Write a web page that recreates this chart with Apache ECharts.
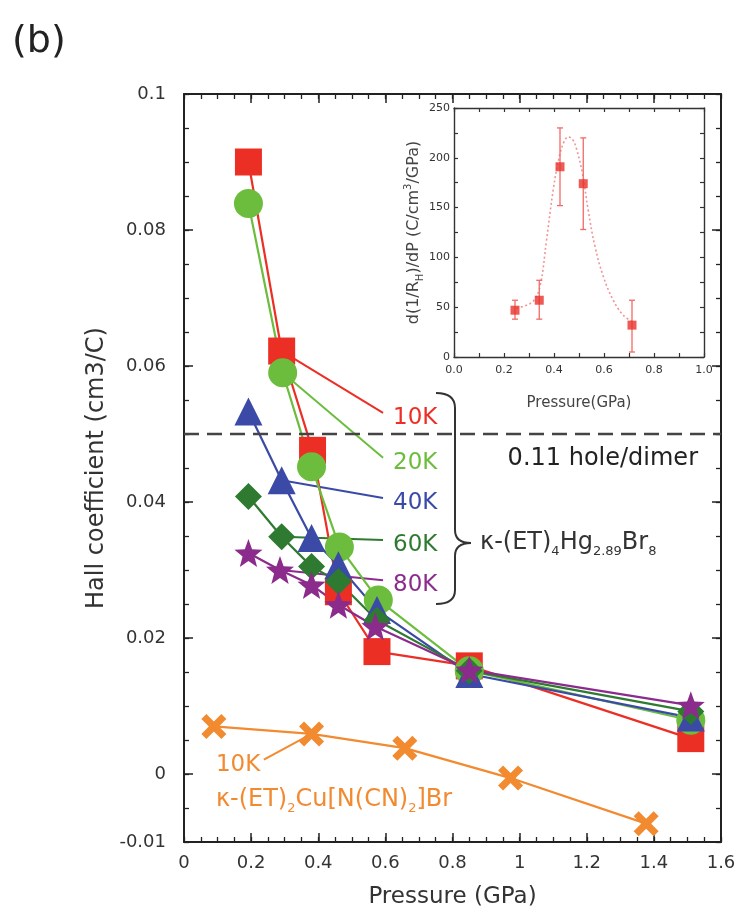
<!DOCTYPE html>
<html>
<head>
<meta charset="utf-8">
<script src="https://cdn.jsdelivr.net/npm/echarts@6/dist/echarts.min.js"></script>
<style>
html,body{margin:0;padding:0;background:#fff;}
#chart{width:742px;height:920px;}
</style>
</head>
<body>
<div id="chart"></div>
<script>
// ---- Hall coefficient of kappa-(ET)4Hg2.89Br8 under pressure ----
const p10K = [0.192, 0.291, 0.383, 0.46, 0.575, 0.85, 1.51];
const r10K = [0.090, 0.0622, 0.0476, 0.0268, 0.018, 0.0159, 0.0052];
const p20K = [0.192, 0.294, 0.38, 0.463, 0.579, 0.85, 1.51];
const r20K = [0.0839, 0.059, 0.0452, 0.0334, 0.0256, 0.0152, 0.0079];
const p40K = [0.192, 0.291, 0.38, 0.46, 0.575, 0.85, 1.51];
const r40K = [0.0533, 0.0432, 0.0347, 0.0307, 0.0241, 0.0147, 0.0083];
const p60K = [0.192, 0.291, 0.38, 0.46, 0.575, 0.85, 1.51];
const r60K = [0.0408, 0.0349, 0.0305, 0.0283, 0.0226, 0.0152, 0.0092];
const p80K = [0.192, 0.286, 0.38, 0.46, 0.57, 0.85, 1.51];
const r80K = [0.0325, 0.030, 0.0278, 0.0249, 0.0217, 0.0153, 0.0101];

// kappa-(ET)2Cu[N(CN)2]Br at 10 K
const pCuBr = [0.089, 0.38, 0.658, 0.973, 1.377];
const rCuBr = [0.007, 0.0059, 0.0038, -0.0006, -0.0073];

// leader lines from the data to the temperature labels: [start, end]
const leadP = [[0.291, 0.593], [0.294, 0.593], [0.291, 0.593], [0.291, 0.593], [0.286, 0.593]];
const leadR = [[0.0622, 0.0531], [0.059, 0.0465], [0.0432, 0.0406], [0.0349, 0.0344], [0.030, 0.0285]];
const leadText = ['10K', '20K', '40K', '60K', '80K'];
const leadCuBrP = [0.38, 0.238];
const leadCuBrR = [0.0059, 0.0021];

const holeLevel = 0.05;

// axis ticks / labels
const xMajor = [0, 0.2, 0.4, 0.6, 0.8, 1.0, 1.2, 1.4, 1.6];
const yLabels = [-0.01, 0, 0.02, 0.04, 0.06, 0.08, 0.1];
const yMajor = [0, 0.02, 0.04, 0.06, 0.08];

// ---- inset: d(1/RH)/dP ----
const insetP = [0.244, 0.341, 0.424, 0.517, 0.712];
const insetD = [47, 57, 191, 174, 32];
const insetLow = [38, 38, 152, 128, 5];
const insetHigh = [57, 77, 230, 220, 57];
const fitP = [0.25, 0.29, 0.32, 0.345, 0.37, 0.397, 0.421, 0.44, 0.457, 0.475, 0.49, 0.514, 0.537, 0.564, 0.597, 0.637, 0.677, 0.717];
const fitD = [49, 52, 57, 72, 117, 168, 201, 216, 221, 218, 209, 184, 147, 111, 81, 57, 42, 35];
const insetXLabels = [0, 0.2, 0.4, 0.6, 0.8, 1.0];
const insetYLabels = [0, 50, 100, 150, 200, 250];

const FONT = '"DejaVu Sans", sans-serif';
const INK = '#222';
const TXT = '#333';
const COL = {k10: '#ec2f25', k20: '#6cbd3e', k40: '#3a4aa6', k60: '#2e7a30', k80: '#8b2c8d', cubr: '#f28a30', inset: '#e8322c'};

const STAR = 'path://M10,0L12.47,6.6L19.51,6.91L13.99,11.3L15.88,18.09L10,14.2L4.12,18.09L6.01,11.3L0.49,6.91L7.53,6.6Z';
const CROSS = 'path://M0,4L4,0L10,6L16,0L20,4L14,10L20,16L16,20L10,14L4,20L0,16L6,10Z';

const pairs = (xs, ys) => xs.map((x, i) => [x, ys[i]]);

function axis(extra) {
  return Object.assign({
    type: 'value',
    splitLine: {show: false},
    axisLine: {show: false, onZero: false},
    axisTick: {show: false},
    axisLabel: {show: false}
  }, extra);
}
const mainLine = {show: true, onZero: false, lineStyle: {color: INK, width: 2}};
const minorTick = {show: true, inside: true, length: 5, lineStyle: {color: INK, width: 1.3}};
const majorTick = (vals) => ({show: true, inside: true, length: 9, customValues: vals, lineStyle: {color: INK, width: 1.5}});
const insetLine = {show: true, onZero: false, lineStyle: {color: '#333', width: 1.4}};
const insetTick = {show: true, inside: true, length: 4, lineStyle: {color: '#333', width: 1.2}};

const xAxes = [
  axis({gridIndex: 0, position: 'bottom', min: 0, max: 1.6, interval: 0.05,
    axisLine: mainLine, axisTick: minorTick,
    axisLabel: {show: true, customValues: xMajor, formatter: v => String(+v.toFixed(2)),
      margin: 12, color: TXT, fontSize: 18, fontFamily: FONT},
    name: 'Pressure (GPa)', nameLocation: 'middle', nameGap: 44,
    nameTextStyle: {fontSize: 23, color: TXT, fontFamily: FONT}}),
  axis({gridIndex: 0, position: 'bottom', min: 0, max: 1.6, axisTick: majorTick(xMajor)}),
  axis({gridIndex: 0, position: 'top', min: 0, max: 1.6, interval: 0.05, axisLine: mainLine, axisTick: minorTick}),
  axis({gridIndex: 0, position: 'top', min: 0, max: 1.6, axisTick: majorTick(xMajor)}),
  axis({gridIndex: 1, position: 'bottom', min: 0, max: 1, interval: 0.1,
    axisLine: insetLine, axisTick: insetTick,
    axisLabel: {show: true, customValues: insetXLabels, formatter: v => v.toFixed(1),
      margin: 8, color: TXT, fontSize: 11, fontFamily: FONT},
    name: 'Pressure(GPa)', nameLocation: 'middle', nameGap: 39,
    nameTextStyle: {fontSize: 15, color: '#444', fontFamily: FONT}}),
  axis({gridIndex: 1, position: 'top', min: 0, max: 1, interval: 0.1, axisLine: insetLine, axisTick: insetTick})
];

const yAxes = [
  axis({gridIndex: 0, position: 'left', min: -0.01, max: 0.1, interval: 0.005,
    axisLine: mainLine, axisTick: minorTick,
    axisLabel: {show: true, customValues: yLabels, formatter: v => String(+v.toFixed(3)),
      margin: 18, color: TXT, fontSize: 18, fontFamily: FONT},
    name: 'Hall coefficient (cm3/C)', nameLocation: 'middle', nameGap: 72, nameRotate: 90,
    nameTextStyle: {fontSize: 24, color: TXT, fontFamily: FONT}}),
  axis({gridIndex: 0, position: 'left', min: -0.01, max: 0.1, axisTick: majorTick(yMajor)}),
  axis({gridIndex: 0, position: 'right', min: -0.01, max: 0.1, interval: 0.005, axisLine: mainLine, axisTick: minorTick}),
  axis({gridIndex: 0, position: 'right', min: -0.01, max: 0.1, axisTick: majorTick(yMajor)}),
  axis({gridIndex: 1, position: 'left', min: 0, max: 250, interval: 25,
    axisLine: insetLine, axisTick: insetTick,
    axisLabel: {show: true, customValues: insetYLabels, margin: 4, color: TXT, fontSize: 11, fontFamily: FONT},
    name: 'd(1/R{sub|H})/dP (C/cm{sup|3}/GPa)', nameLocation: 'middle', nameGap: 17, nameRotate: 90,
    nameTextStyle: {fontSize: 16, lineHeight: 22, color: '#444', fontFamily: FONT,
      rich: {
        sub: {fontSize: 10, lineHeight: 10, verticalAlign: 'bottom', color: '#444', fontFamily: FONT},
        sup: {fontSize: 10, lineHeight: 10, verticalAlign: 'top', color: '#444', fontFamily: FONT}
      }}}),
  axis({gridIndex: 1, position: 'right', min: 0, max: 250, interval: 25, axisLine: insetLine, axisTick: insetTick})
];

const leaderColors = [COL.k10, COL.k20, COL.k40, COL.k60, COL.k80];
const leaderSeries = leadP.map((ps, i) => ({
  type: 'line', xAxisIndex: 0, yAxisIndex: 0, silent: true, symbol: 'none',
  lineStyle: {color: leaderColors[i], width: 2}, data: pairs(ps, leadR[i]), z: 2
}));

function mainSeries(name, xs, ys, color, symbol, size) {
  return {
    name, type: 'line', xAxisIndex: 0, yAxisIndex: 0, silent: true,
    symbol, symbolSize: size, showSymbol: true,
    itemStyle: {color, opacity: 1},
    lineStyle: {color, width: 2.2},
    data: pairs(xs, ys), z: 3
  };
}

const series = [
  ...leaderSeries,
  {type: 'line', xAxisIndex: 0, yAxisIndex: 0, silent: true, symbol: 'none',
    lineStyle: {color: COL.cubr, width: 2}, data: pairs(leadCuBrP, leadCuBrR), z: 2},
  mainSeries('10K', p10K, r10K, COL.k10, 'rect', 27),
  mainSeries('20K', p20K, r20K, COL.k20, 'circle', 29),
  mainSeries('40K', p40K, r40K, COL.k40, 'triangle', 28),
  mainSeries('60K', p60K, r60K, COL.k60, 'diamond', 27),
  mainSeries('80K', p80K, r80K, COL.k80, STAR, 28),
  Object.assign(mainSeries('CuBr 10K', pCuBr, rCuBr, COL.cubr, CROSS, 25), {
    markLine: {
      silent: true, symbol: ['none', 'none'], label: {show: false},
      lineStyle: {color: '#444', width: 2.4, type: [15, 8]},
      data: [{yAxis: holeLevel}]
    }
  }),
  // inset
  {type: 'line', xAxisIndex: 4, yAxisIndex: 4, silent: true, symbol: 'none', smooth: 0.4,
    lineStyle: {color: '#f29393', width: 1.6, type: [2, 2.5]}, data: pairs(fitP, fitD), z: 3},
  {type: 'custom', xAxisIndex: 4, yAxisIndex: 4, silent: true, z: 4,
    data: insetP.map((p, i) => [p, insetLow[i], insetHigh[i]]),
    encode: {x: 0, y: [1, 2]},
    renderItem: (params, api) => {
      const x = api.value(0);
      const hi = api.coord([x, api.value(2)]);
      const lo = api.coord([x, api.value(1)]);
      const w = 3;
      const st = {stroke: '#f06a66', lineWidth: 1.3};
      return {type: 'group', children: [
        {type: 'line', shape: {x1: hi[0], y1: hi[1], x2: lo[0], y2: lo[1]}, style: st},
        {type: 'line', shape: {x1: hi[0] - w, y1: hi[1], x2: hi[0] + w, y2: hi[1]}, style: st},
        {type: 'line', shape: {x1: lo[0] - w, y1: lo[1], x2: lo[0] + w, y2: lo[1]}, style: st}
      ]};
    }},
  {type: 'scatter', xAxisIndex: 4, yAxisIndex: 4, silent: true, symbol: 'rect', symbolSize: 9,
    itemStyle: {color: COL.inset}, data: pairs(insetP, insetD), z: 5}
];

const chart = echarts.init(document.getElementById('chart'), null, {renderer: 'canvas'});
chart.setOption({
  animation: false,
  backgroundColor: '#fff',
  grid: [
    {left: 184, top: 94, width: 537, height: 748, containLabel: false, outerBoundsMode: 'none'},
    {left: 454, top: 108, width: 250, height: 249, containLabel: false, outerBoundsMode: 'none',
      show: true, backgroundColor: '#fff', borderWidth: 0}
  ],
  xAxis: xAxes,
  yAxis: yAxes,
  series
});

// ---- annotations placed through the main axes ----
const toPx = (x, y) => chart.convertToPixel({xAxisIndex: 0, yAxisIndex: 0}, [x, y]);
const graphics = [];

graphics.push({type: 'text', silent: true, x: 12, y: 42,
  style: {text: '(b)', font: '38px ' + FONT, fill: INK, align: 'left', verticalAlign: 'middle'}});

leadP.forEach((ps, i) => {
  const e = toPx(ps[1], leadR[i][1]);
  graphics.push({type: 'text', silent: true, x: e[0] + 10, y: e[1] + 5,
    style: {text: leadText[i], font: '23px ' + FONT, fill: leaderColors[i], align: 'left', verticalAlign: 'middle'}});
});

// curly bracket grouping the temperature labels
const brace = {stroke: '#333', lineWidth: 2, fill: null};
const seg = (x1, y1, x2, y2) => ({type: 'line', silent: true, shape: {x1, y1, x2, y2}, style: brace});
const arc = (x1, y1, cx, cy, x2, y2) => ({type: 'bezierCurve', silent: true,
  shape: {x1, y1, cpx1: cx, cpy1: cy, x2, y2}, style: brace});
graphics.push({type: 'group', silent: true, children: [
  arc(436, 393, 455, 393, 455, 408),
  seg(455, 408, 455, 530),
  arc(455, 530, 455, 543, 471, 543),
  arc(471, 543, 455, 543, 455, 556),
  seg(455, 556, 455, 590),
  arc(455, 590, 455, 604, 436, 604)
]});
graphics.push({type: 'text', silent: true, x: 480, y: 543,
  style: {
    text: '{m|κ-(ET)}{s|4}{m|Hg}{s|2.89}{m|Br}{s|8}',
    align: 'left', verticalAlign: 'middle',
    rich: {
      m: {font: '24px ' + FONT, fill: '#333', lineHeight: 30, verticalAlign: 'middle'},
      s: {font: '13px ' + FONT, fill: '#333', lineHeight: 15, verticalAlign: 'bottom'}
    }
  }});

// label under the dashed hole-density line
const hl = toPx(1.6, holeLevel);
graphics.push({type: 'text', silent: true, x: hl[0] - 23, y: hl[1] + 25,
  style: {text: '0.11 hole/dimer', font: '24px ' + FONT, fill: INK, align: 'right', verticalAlign: 'middle'}});

// labels of the kappa-(ET)2Cu[N(CN)2]Br curve
const oe = toPx(leadCuBrP[1], leadCuBrR[1]);
graphics.push({type: 'text', silent: true, x: oe[0] - 48, y: oe[1] + 5,
  style: {text: '10K', font: '23px ' + FONT, fill: COL.cubr, align: 'left', verticalAlign: 'middle'}});
graphics.push({type: 'text', silent: true, x: oe[0] - 48, y: oe[1] + 40,
  style: {
    text: '{m|κ-(ET)}{s|2}{m|Cu[N(CN)}{s|2}{m|]Br}',
    align: 'left', verticalAlign: 'middle',
    rich: {
      m: {font: '24px ' + FONT, fill: COL.cubr, lineHeight: 30, verticalAlign: 'middle'},
      s: {font: '13px ' + FONT, fill: COL.cubr, lineHeight: 15, verticalAlign: 'bottom'}
    }
  }});

chart.setOption({graphic: graphics});
</script>
</body>
</html>
